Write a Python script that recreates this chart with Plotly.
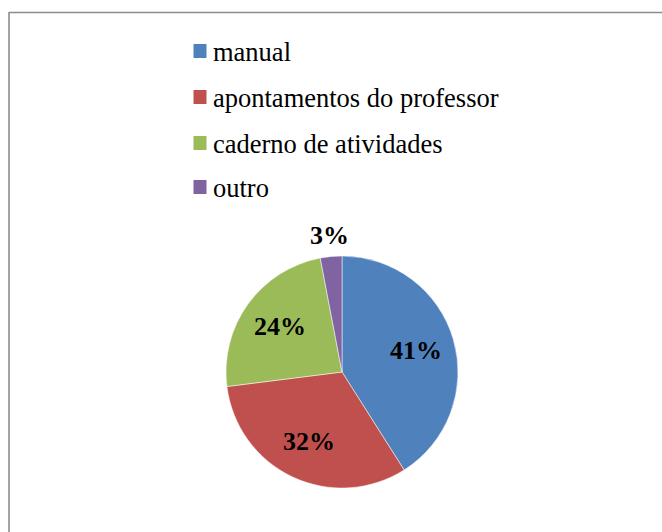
import math
import plotly.graph_objects as go

categories = ["manual", "apontamentos do professor", "caderno de atividades", "outro"]
values = [41, 32, 24, 3]
colors = ["#4F81BD", "#C0504D", "#9BBB59", "#8064A2"]

W, H = 662, 532

def px(x):
    return x / W

def py(y):
    return 1 - y / H

SERIF = "Liberation Serif, Times New Roman, serif"

cx, cy, r = 342, 372, 116

fig = go.Figure()
fig.add_trace(go.Pie(
    labels=categories,
    values=values,
    sort=False,
    direction="clockwise",
    rotation=0,
    marker=dict(colors=colors, line=dict(color="white", width=0.5)),
    textinfo="none",
    domain=dict(x=[px(cx - r), px(cx + r)], y=[py(cy + r), py(cy - r)]),
    showlegend=False,
    hoverinfo="label+percent",
))

shapes = [
    dict(type="line", xref="paper", yref="paper", x0=px(9), x1=1.02, y0=py(12.5), y1=py(12.5),
         line=dict(color="#8c8c8c", width=1.6)),
    dict(type="line", xref="paper", yref="paper", x0=px(9), x1=px(9), y0=py(12), y1=-0.02,
         line=dict(color="#8c8c8c", width=1.6)),
]
annotations = []
row_y = [51, 97, 143, 187]
for cat, col, yy in zip(categories, colors, row_y):
    shapes.append(dict(type="rect", xref="paper", yref="paper",
                       x0=px(193.5), x1=px(206.5), y0=py(yy + 7), y1=py(yy - 7),
                       fillcolor=col, line=dict(width=0)))
    annotations.append(dict(xref="paper", yref="paper", x=px(211), y=py(yy + 1),
                            xanchor="left", yanchor="middle", text=cat, showarrow=False,
                            font=dict(family=SERIF, size=26.5, color="black")))

# percentage labels placed at each slice's mid-angle
total = sum(values)
cum = 0
for v in values:
    mid = (cum + v / 2) / total * 360
    cum += v
    frac = v / total
    rr = r * (1.18 if frac < 0.05 else 0.66)
    x = cx + rr * math.sin(math.radians(mid))
    y = cy - rr * math.cos(math.radians(mid))
    annotations.append(dict(xref="paper", yref="paper", x=px(x), y=py(y),
                            xanchor="center", yanchor="middle",
                            text="<b>%d%%</b>" % round(frac * 100), showarrow=False,
                            font=dict(family=SERIF, size=26, color="black")))

fig.update_layout(
    width=W, height=H,
    margin=dict(l=0, r=0, t=0, b=0),
    paper_bgcolor="white",
    plot_bgcolor="white",
    shapes=shapes,
    annotations=annotations,
)

fig.write_html(
    "out.html",
    config={"displayModeBar": False},
    post_script="document.body.style.margin='0px';document.body.style.overflow='hidden';",
)
